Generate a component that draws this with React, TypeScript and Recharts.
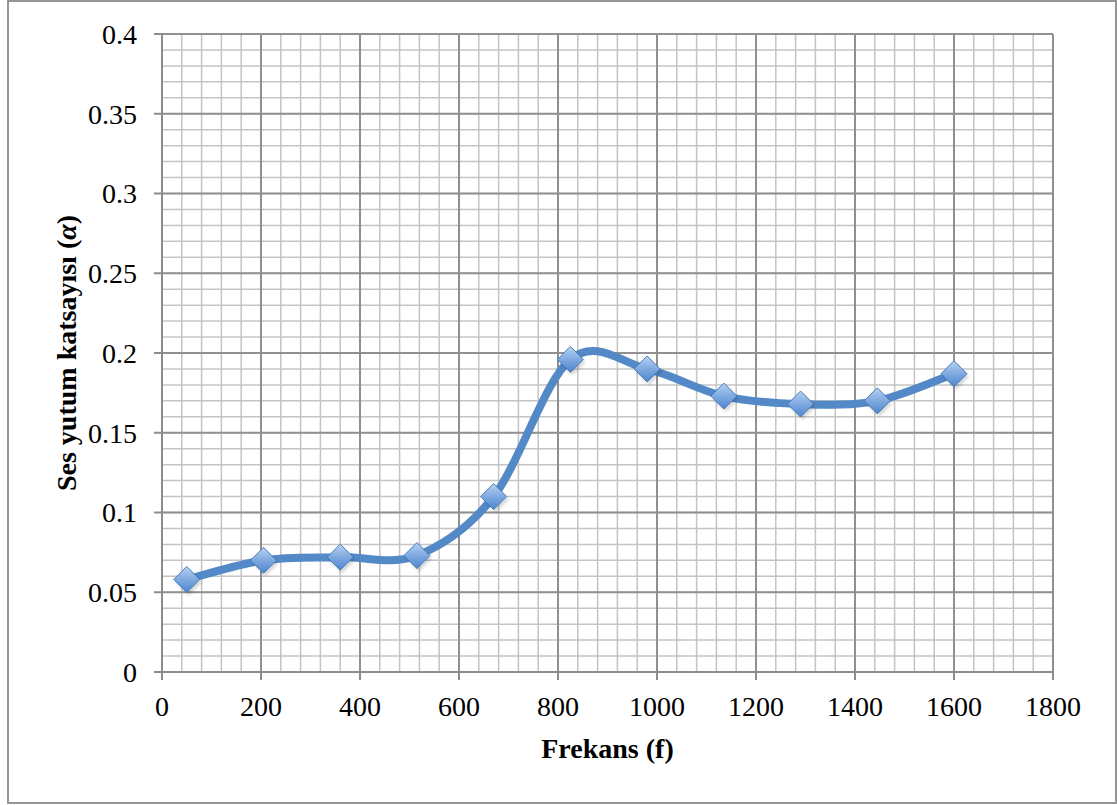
import React from "react";
import {
  LineChart,
  Line,
  XAxis,
  YAxis,
  CartesianGrid,
  Label,
} from "recharts";

// Frekans (f) on the x axis, Ses yutum katsayısı (α) on the y axis
const frequencies = [50, 205, 360, 515, 670, 825, 980, 1135, 1290, 1445, 1600];
const alphaValues = [0.058, 0.07, 0.072, 0.073, 0.11, 0.196, 0.19, 0.173, 0.168, 0.17, 0.187];

const xTicks = [0, 200, 400, 600, 800, 1000, 1200, 1400, 1600, 1800];
const yTicks = [0, 0.05, 0.1, 0.15, 0.2, 0.25, 0.3, 0.35, 0.4];

const xMinor: number[] = [];
for (let v = 0; v <= 1800; v += 40) xMinor.push(v);
const yMinor: number[] = [];
for (let i = 0; i <= 40; i++) yMinor.push(i / 100);

const data = frequencies.map((f, i) => ({ f, a: alphaValues[i] }));

const FONT = '"Liberation Serif", "Times New Roman", serif';
const LINE_COLOR = "#5289c6";

// grid positions through the axis scales (so no tick thinning happens)
const vertCoords = (values: number[]) => ({ xAxis, offset }: any) =>
  values.map((v) =>
    typeof xAxis?.scale === "function"
      ? xAxis.scale(v)
      : offset.left + (v / 1800) * offset.width
  );
const horizCoords = (values: number[]) => ({ yAxis, offset }: any) =>
  values.map((v) =>
    typeof yAxis?.scale === "function"
      ? yAxis.scale(v)
      : offset.top + offset.height - (v / 0.4) * offset.height
  );

// Excel-style smoothed line (Catmull-Rom through the points)
const smoothCurve = (context: any) => {
  let pts: [number, number][] = [];
  return {
    areaStart() {},
    areaEnd() {},
    lineStart() {
      pts = [];
    },
    point(x: number, y: number) {
      pts.push([+x, +y]);
    },
    lineEnd() {
      if (!pts.length) return;
      context.moveTo(pts[0][0], pts[0][1]);
      for (let i = 0; i < pts.length - 1; i++) {
        const p0 = pts[i - 1] || pts[i];
        const p1 = pts[i];
        const p2 = pts[i + 1];
        const p3 = pts[i + 2] || pts[i + 1];
        context.bezierCurveTo(
          p1[0] + (p2[0] - p0[0]) / 6,
          p1[1] + (p2[1] - p0[1]) / 6,
          p2[0] - (p3[0] - p1[0]) / 6,
          p2[1] - (p3[1] - p1[1]) / 6,
          p2[0],
          p2[1]
        );
      }
    },
  };
};

const Diamond = (props: any) => {
  const { cx, cy, index } = props;
  if (cx == null || cy == null) return null;
  const r = 13;
  const pts = (dx: number, dy: number) =>
    `${cx + dx},${cy - r + dy} ${cx + r + dx},${cy + dy} ${cx + dx},${cy + r + dy} ${cx - r + dx},${cy + dy}`;
  return (
    <g key={`dot-${index}`}>
      <polygon points={pts(2, 3)} fill="rgba(0,0,0,0.16)" filter="url(#dotBlur)" />
      <polygon
        points={pts(0, 0)}
        fill="url(#diamondGrad)"
        stroke="#4a7cbc"
        strokeWidth={1}
      />
    </g>
  );
};

const YTitle = (props: any) => {
  const vb = props.viewBox || {};
  const x = vb.x + 4;
  const y = vb.y + vb.height / 2;
  return (
    <text
      x={x}
      y={y}
      transform={`rotate(-90 ${x} ${y})`}
      textAnchor="middle"
      dominantBaseline="central"
      fontFamily={FONT}
      fontWeight="bold"
      fontSize={28}
      fill="#000"
    >
      Ses yutum katsayısı (<tspan fontStyle="italic">α</tspan>)
    </text>
  );
};

const XTitle = (props: any) => {
  const vb = props.viewBox || {};
  const x = vb.x + vb.width / 2;
  const y = vb.y + 76;
  return (
    <text
      x={x}
      y={y}
      textAnchor="middle"
      dominantBaseline="central"
      fontFamily={FONT}
      fontWeight="bold"
      fontSize={28}
      fill="#000"
    >
      Frekans (f)
    </text>
  );
};

export default function App() {
  return (
    <div
      style={{
        position: "absolute",
        left: 0,
        top: 0,
        width: 1117,
        height: 805,
        background: "#fff",
      }}
    >
      <div
        style={{
          position: "absolute",
          left: 7,
          top: 0,
          width: 1106,
          height: 800,
          border: "2px solid #959595",
        }}
      />
      <div style={{ position: "absolute", left: 0, top: 0 }}>
        <LineChart
          width={1117}
          height={805}
          data={data}
          margin={{ top: 34, right: 64, left: 62, bottom: 43 }}
        >
          <defs>
            <linearGradient id="diamondGrad" x1="0" y1="0" x2="0" y2="1">
              <stop offset="0%" stopColor="#b7d3f2" />
              <stop offset="50%" stopColor="#7fa9e0" />
              <stop offset="100%" stopColor="#4d86cf" />
            </linearGradient>
            <filter id="dotBlur" x="-50%" y="-50%" width="200%" height="200%">
              <feGaussianBlur stdDeviation="1.5" />
            </filter>
          </defs>
          <CartesianGrid
            verticalCoordinatesGenerator={vertCoords(xMinor)}
            horizontalCoordinatesGenerator={horizCoords(yMinor)}
            stroke="#c4c4c4"
            strokeWidth={1.5}
          />
          <CartesianGrid
            verticalCoordinatesGenerator={vertCoords(xTicks)}
            horizontalCoordinatesGenerator={horizCoords(yTicks)}
            stroke="#909090"
            strokeWidth={2}
          />
          <XAxis
            dataKey="f"
            type="number"
            domain={[0, 1800]}
            ticks={xTicks}
            interval={0}
            allowDataOverflow
            height={90}
            stroke="#8c8c8c"
            strokeWidth={2}
            tickSize={8}
            tickMargin={16}
            tick={{ fill: "#000", fontSize: 28, fontFamily: FONT }}
          >
            <Label content={<XTitle />} />
          </XAxis>
          <YAxis
            dataKey="a"
            type="number"
            domain={[0, 0.4]}
            ticks={yTicks}
            interval={0}
            allowDataOverflow
            width={100}
            stroke="#8c8c8c"
            strokeWidth={2}
            tickSize={8}
            tickMargin={17}
            tickFormatter={(v) => String(v)}
            tick={{ fill: "#000", fontSize: 28, fontFamily: FONT }}
          >
            <Label content={<YTitle />} />
          </YAxis>
          <Line
            dataKey="a"
            type={smoothCurve as any}
            stroke={LINE_COLOR}
            strokeWidth={8}
            strokeLinecap="round"
            dot={<Diamond />}
            activeDot={false}
            isAnimationActive={false}
          />
        </LineChart>
      </div>
    </div>
  );
}
